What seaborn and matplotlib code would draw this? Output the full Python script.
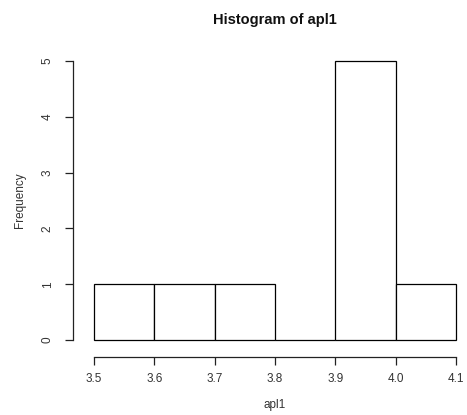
import matplotlib
matplotlib.use("Agg")
import matplotlib.pyplot as plt
import seaborn as sns
import numpy as np

bin_edges = [3.5, 3.6, 3.7, 3.8, 3.9, 4.0, 4.1]
counts = [1, 1, 1, 0, 5, 1]
x_ticks = [3.5, 3.6, 3.7, 3.8, 3.9, 4.0, 4.1]
x_tick_labels = ["3.5", "3.6", "3.7", "3.8", "3.9", "4.0", "4.1"]
y_ticks = [0, 1, 2, 3, 4, 5]

sns.set_style("white")
plt.rcParams['font.family'] = ['Liberation Sans', 'DejaVu Sans']

W, H = 467, 415
fig = plt.figure(figsize=(W / 100, H / 100), dpi=100)
ax = fig.add_axes([94 / W, (H - 340) / H, (456 - 94) / W, (340 - 61) / H])

centers = [(a + b) / 2 for a, b in zip(bin_edges[:-1], bin_edges[1:])]
sns.histplot(x=centers, weights=counts, bins=bin_edges, ax=ax,
             color="white", edgecolor="black", linewidth=0.9, alpha=1)
for p in ax.patches:
    p.set_clip_on(False)

ax.set_xlim(3.5, 4.1)
ax.set_ylim(0, 5)
for s in ["top", "right"]:
    ax.spines[s].set_visible(False)
ax.spines["left"].set_position(("outward", 15))
ax.spines["bottom"].set_position(("outward", 12))
for s in ["left", "bottom"]:
    ax.spines[s].set_color("#222222")
    ax.spines[s].set_linewidth(0.9)

ax.set_xticks(x_ticks)
ax.set_xticklabels(x_tick_labels)
ax.set_yticks(y_ticks)
ax.set_yticklabels([str(v) for v in y_ticks], rotation=90, va="center")
ax.tick_params(axis="both", which="major", length=6, width=0.9, color="#222222",
               labelsize=8.5, labelcolor="#333333", direction="out", bottom=True, left=True)
ax.tick_params(axis="x", pad=6)
ax.tick_params(axis="y", pad=8)

ax.set_xlabel("")
ax.set_ylabel("")
fig.text(275 / W, 1 - 405 / H, "apl1", ha="center", va="center", fontsize=8.5, color="#333333")
fig.text(20 / W, 1 - 200 / H, "Frequency", ha="center", va="center", rotation=90,
         fontsize=8.5, color="#333333")
fig.text(275 / W, 1 - 20 / H, "Histogram of apl1", ha="center", va="center",
         fontsize=10.5, fontweight="bold", color="#111111")

fig.savefig("out.png", dpi=100, facecolor="white")
